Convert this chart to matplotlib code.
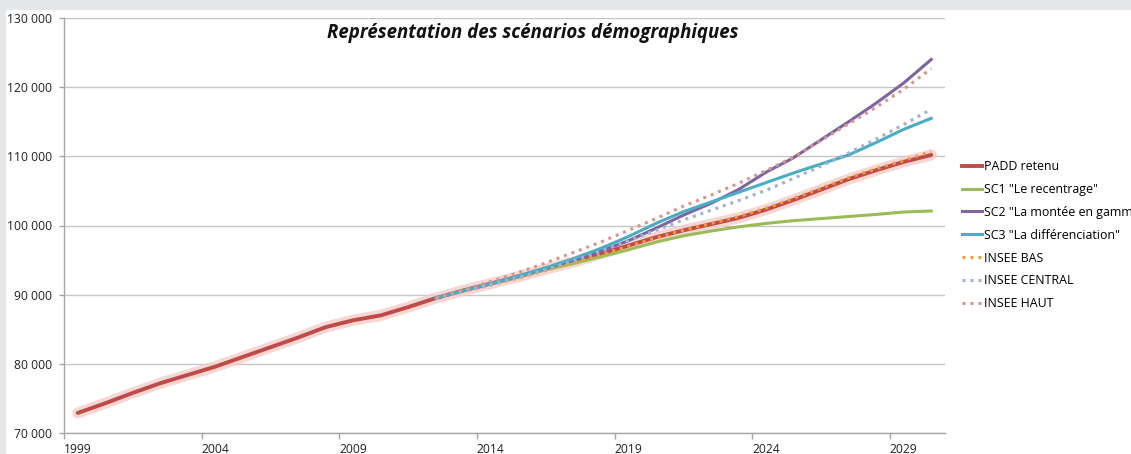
import matplotlib
matplotlib.use("Agg")
import matplotlib.pyplot as plt
import matplotlib.patheffects as pe
from matplotlib.patches import Rectangle
from matplotlib.lines import Line2D

plt.rcParams['font.family'] = ['Open Sans', 'DejaVu Sans']

# PADD retenu, 1999-2030
years_padd = list(range(1999, 2031))
padd = [72900, 74300, 75800, 77200, 78400, 79600, 81000, 82400, 83800, 85300,
        86300, 87000, 88200, 89500, 90600, 91600, 92600, 93700, 94700, 95900,
        97100, 98300, 99300, 100200, 101100, 102300, 103700, 105200, 106700,
        108000, 109200, 110200]

# scenarios, 2012-2030
years_sc = list(range(2012, 2031))
sc1 = [89500, 90600, 91600, 92600, 93600, 94500, 95500, 96500, 97600, 98500,
       99200, 99800, 100300, 100700, 101000, 101300, 101600, 101950, 102100]
sc2 = [89500, 90600, 91600, 92700, 93800, 95000, 96300, 97800, 99600, 101500,
       103200, 105200, 107700, 109800, 112400, 115000, 117700, 120600, 124000]
sc3 = [89500, 90600, 91600, 92700, 93900, 95200, 96700, 98400, 100300, 102000,
       103400, 104800, 106200, 107600, 108900, 110200, 112000, 113900, 115500]
insee_bas = [89500, 90500, 91400, 92400, 93500, 94600, 95800, 97000, 98200, 99300,
             100300, 101300, 102500, 103900, 105400, 106900, 108200, 109400, 110700]
insee_central = [89500, 90500, 91400, 92500, 93600, 94900, 96300, 97800, 99300, 100800,
                 102200, 103600, 105100, 106800, 108600, 110500, 112500, 114600, 116800]
insee_haut = [89500, 90700, 91900, 93200, 94600, 96100, 97600, 99300, 101000, 102800,
              104400, 106100, 107950, 109900, 112300, 114700, 117100, 119700, 122700]

year_labels = [1999, 2004, 2009, 2014, 2019, 2024, 2029]
y_ticks = [70000, 80000, 90000, 100000, 110000, 120000, 130000]

W, H = 1131, 454
fig = plt.figure(figsize=(W / 100, H / 100), dpi=100, facecolor='#e4e8eb')
fig.patches.append(Rectangle((6 / W, 0), 1, 1 - 10 / H, transform=fig.transFigure,
                             facecolor='white', edgecolor='none', zorder=-10))

ax = fig.add_axes([64 / W, (H - 433) / H, (945 - 64) / W, (433 - 18) / H])
ax.set_zorder(2)
ax.set_facecolor('white')

glow = [pe.Stroke(linewidth=8, foreground='#f5cdc8', alpha=0.8), pe.Normal()]
ax.plot(years_padd, padd, color='#be4b48', lw=2.8, solid_capstyle='round',
        path_effects=glow, zorder=3)
ax.plot(years_sc, sc1, color='#9bbb59', lw=2.2, zorder=4)
ax.plot(years_sc, sc2, color='#8064a2', lw=2.2, zorder=5)
ax.plot(years_sc, sc3, color='#4bacc6', lw=2.2, zorder=6)
dots = dict(lw=2.2, linestyle=(0, (1, 1.6)), zorder=7)
ax.plot(years_sc, insee_bas, color='#f59a3c', **dots)
ax.plot(years_sc, insee_central, color='#9fb3d2', **dots)
ax.plot(years_sc, insee_haut, color='#d9968f', **dots)

ax.set_xlim(1998.5, 2030.5)
ax.set_ylim(70000, 130000)
ax.set_yticks(y_ticks)
ax.set_yticklabels([f"{v:,}".replace(",", " ") for v in y_ticks])
ax.set_xticks(year_labels)
ax.set_xticklabels([str(y) for y in year_labels])
ax.set_xticks([1998.5 + 5 * k for k in range(7)], minor=True)
ax.tick_params(axis='x', which='major', length=0, pad=7, labelsize=8.7, labelcolor='#222222')
ax.tick_params(axis='x', which='minor', length=4, width=1, color='#a6a6a6', direction='out')
ax.tick_params(axis='y', length=3.5, width=1, color='#a6a6a6', pad=5,
               labelsize=8.7, labelcolor='#222222')

ax.grid(axis='y', color='#c6c6c6', lw=1)
ax.set_axisbelow(True)
for s in ['top', 'right']:
    ax.spines[s].set_visible(False)
for s in ['left', 'bottom']:
    ax.spines[s].set_color('#a6a6a6')
    ax.spines[s].set_linewidth(1)

fig.text(533 / W, 1 - 33 / H, "Représentation des scénarios démographiques",
         ha='center', va='center', fontsize=13.4, fontweight='bold', fontstyle='italic',
         color='#111111')

handles = [
    Line2D([], [], color='#be4b48', lw=2.8),
    Line2D([], [], color='#9bbb59', lw=2.2),
    Line2D([], [], color='#8064a2', lw=2.2),
    Line2D([], [], color='#4bacc6', lw=2.2),
    Line2D([], [], color='#f59a3c', lw=2.2, linestyle=(0, (1, 1.6))),
    Line2D([], [], color='#9fb3d2', lw=2.2, linestyle=(0, (1, 1.6))),
    Line2D([], [], color='#d9968f', lw=2.2, linestyle=(0, (1, 1.6))),
]
labels = ['PADD retenu', 'SC1 "Le recentrage"', 'SC2 "La montée en gamme"',
          'SC3 "La différenciation"', 'INSEE BAS', 'INSEE CENTRAL', 'INSEE HAUT']
fig.legend(handles, labels, loc='upper left', bbox_to_anchor=(962 / W, 1 - 160 / H),
           frameon=False, fontsize=8.9, handlelength=1.6, handletextpad=0.15,
           labelspacing=0.8, borderaxespad=0, borderpad=0)

fig.savefig('out.png', dpi=100, facecolor=fig.get_facecolor())
